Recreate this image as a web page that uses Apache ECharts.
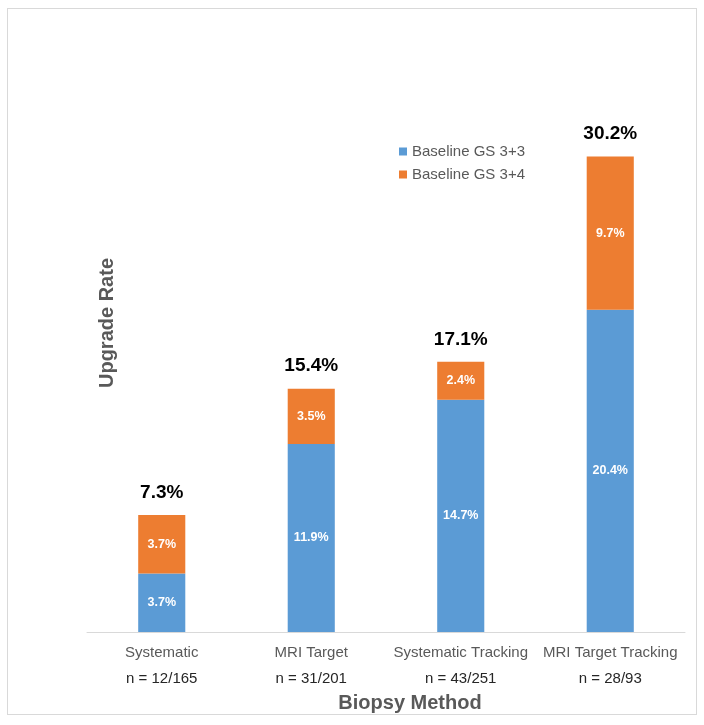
<!DOCTYPE html>
<html>
<head>
<meta charset="utf-8">
<script src="https://cdn.jsdelivr.net/npm/echarts@6/dist/echarts.min.js"></script>
<style>
html,body{margin:0;padding:0;background:#fff;}
#frame{position:absolute;left:7px;top:8px;width:688px;height:705px;border:1px solid #d9d9d9;}
#chart{position:absolute;left:0;top:0;width:704px;height:725px;}
</style>
</head>
<body>
<div id="frame"></div>
<div id="chart"></div>
<script>
var categories = ["Systematic", "MRI Target", "Systematic Tracking", "MRI Target Tracking"];
var counts = ["n = 12/165", "n = 31/201", "n = 43/251", "n = 28/93"];
var gs33 = [3.7, 11.9, 14.7, 20.4];
var gs34 = [3.7, 3.5, 2.4, 9.7];
var totals = ["7.3%", "15.4%", "17.1%", "30.2%"];

var FONT = "Liberation Sans, Arial, sans-serif";
var chart = echarts.init(document.getElementById('chart'), null, {renderer: 'canvas'});

chart.setOption({
  animation: false,
  textStyle: {fontFamily: FONT},
  grid: {left: 87, right: 19, top: 79, bottom: 93, containLabel: false},
  legend: {
    data: ['Baseline GS 3+3', 'Baseline GS 3+4'],
    orient: 'vertical',
    left: 394, top: 139,
    itemWidth: 8, itemHeight: 8, itemGap: 8,
    icon: 'rect',
    textStyle: {fontFamily: FONT, fontSize: 15, color: '#595959'}
  },
  xAxis: {
    type: 'category',
    data: categories,
    axisLine: {lineStyle: {color: '#d9d9d9', width: 1}},
    axisTick: {show: false},
    axisLabel: {
      interval: 0,
      margin: 8,
      formatter: function (v, i) { return '{a|' + v + '}\n{b|' + counts[i] + '}'; },
      rich: {
        a: {fontFamily: FONT, fontSize: 15, color: '#595959', lineHeight: 26},
        b: {fontFamily: FONT, fontSize: 15, color: '#262626', lineHeight: 26}
      }
    }
  },
  yAxis: {
    type: 'value', min: 0, max: 35,
    show: false,
    splitLine: {show: false}
  },
  series: [
    {
      name: 'Baseline GS 3+3', type: 'bar', stack: 's', barWidth: '31.5%',
      data: gs33,
      itemStyle: {color: '#5B9BD5'},
      label: {show: true, position: 'inside', formatter: '{c}%', color: '#fff', fontWeight: 'bold', fontSize: 12.5, fontFamily: FONT}
    },
    {
      name: 'Baseline GS 3+4', type: 'bar', stack: 's', barWidth: '31.5%',
      data: gs34,
      itemStyle: {color: '#ED7D31'},
      label: {show: true, position: 'inside', formatter: '{c}%', color: '#fff', fontWeight: 'bold', fontSize: 12.5, fontFamily: FONT}
    },
    {
      name: 'total', type: 'bar', stack: 's', barWidth: '31.5%',
      data: [0, 0, 0, 0],
      itemStyle: {color: 'transparent'},
      label: {
        show: true, position: 'top', distance: 13,
        formatter: function (p) { return totals[p.dataIndex]; },
        color: '#000', fontWeight: 'bold', fontSize: 19, fontFamily: FONT
      }
    }
  ],
  graphic: [
    {
      type: 'text', x: 410, y: 703,
      style: {text: 'Biopsy Method', fontFamily: FONT, fontSize: 20, fontWeight: 'bold', fill: '#595959', textAlign: 'center', textVerticalAlign: 'middle'}
    },
    {
      type: 'text', x: 107, y: 323, rotation: Math.PI / 2,
      style: {text: 'Upgrade Rate', fontFamily: FONT, fontSize: 20, fontWeight: 'bold', fill: '#595959', textAlign: 'center', textVerticalAlign: 'middle'}
    }
  ]
});
</script>
</body>
</html>
